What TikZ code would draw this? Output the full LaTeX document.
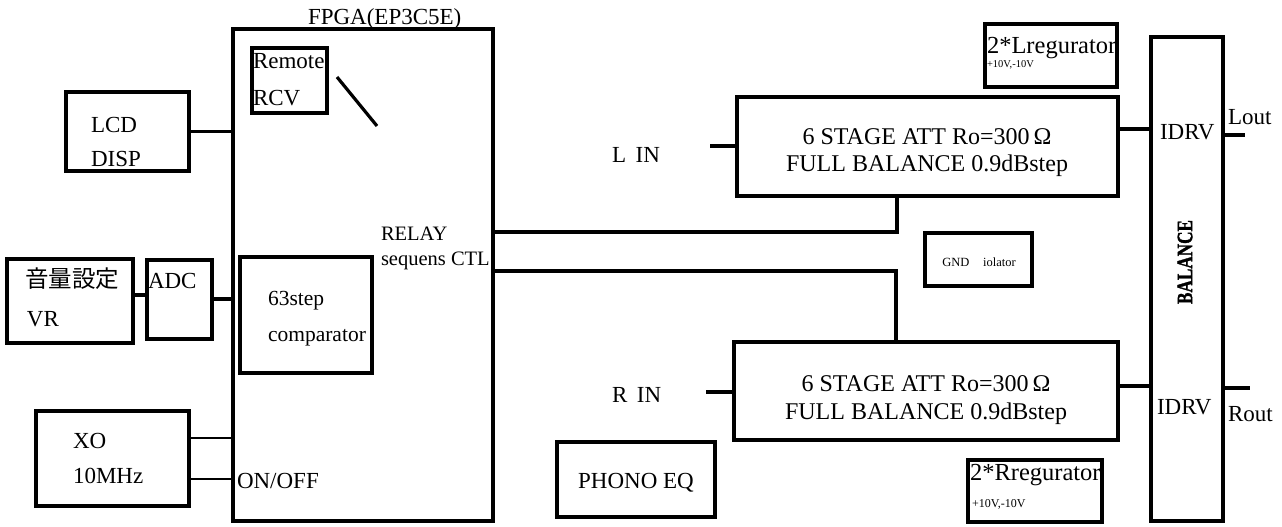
\documentclass[tikz,border=0pt]{standalone}
\usepackage{fontspec}
\setmainfont{Liberation Serif}
\newfontfamily\cjkfont{Noto Sans CJK JP}
\newfontfamily\balfont{Liberation Serif Bold}[FakeBold=1.6]
\newcommand\mybox[5]{\node[box, minimum width={(#4-#2)*1pt}, minimum height={(#5-#3)*1pt}] (#1) at ({(#2+#4)/2},{(#3+#5)/2}) {};}
\begin{document}
\begin{tikzpicture}[x=1pt,y=-1pt,
  box/.style={draw, line width=3.2pt, inner sep=0pt, outer sep=0pt},
  wire/.style={line width=3.2pt},
  thinwire/.style={line width=1.5pt},
  lbl/.style={inner sep=0pt, outer sep=0pt, anchor=base west, font=\fontsize{23}{27}\selectfont},
  clbl/.style={lbl, anchor=base, font=\fontsize{24}{28}\selectfont},
  tiny/.style={inner sep=0pt, outer sep=0pt, anchor=base west}]
\useasboundingbox (0,0) rectangle (1282,527);

% boxes
\mybox{fpga}{233}{29}{493}{521}
\mybox{rcv}{252}{48}{327}{113}
\mybox{lcd}{66}{92}{189}{171}
\mybox{vr}{7}{259}{133}{343}
\mybox{adc}{147}{260}{212}{339}
\mybox{cmp}{240}{257}{372}{373}
\mybox{xo}{36}{411}{189}{506}
\mybox{latt}{737}{97}{1118}{196}
\mybox{ratt}{734}{342}{1118}{440}
\mybox{bal}{1151}{37}{1223}{521}
\mybox{lreg}{985}{24}{1117}{87}
\mybox{rreg}{968}{460}{1102}{522}
\mybox{gnd}{925}{233}{1032}{286}
\mybox{phono}{557}{442}{715}{517}

% helper coordinates
\coordinate (h295) at (0,295);
\coordinate (h299) at (0,299);
\coordinate (h438) at (0,438);
\coordinate (h479) at (0,479);
\coordinate (h232) at (0,232);
\coordinate (h271) at (0,271);
\coordinate (v897) at (897,0);
\coordinate (v896) at (896,0);
\coordinate (h129) at (0,129);
\coordinate (h386) at (0,386);
\coordinate (linend) at (710,146);
\coordinate (rinend) at (706,392);
\coordinate (loutend) at (1245,135);
\coordinate (routend) at (1250,388);
\coordinate (d1) at (337,77);
\coordinate (d2) at (377,126);

% connectors
\draw[wire] (lcd.east) -- (lcd.east -| fpga.west);
\draw[wire] (vr.east |- h295) -- (adc.west |- h295);
\draw[wire] (adc.east |- h299) -- (fpga.west |- h299);
\draw[thinwire] (xo.east |- h438) -- (fpga.west |- h438);
\draw[thinwire] (xo.east |- h479) -- (fpga.west |- h479);
\draw[wire] (fpga.east |- h232) -- (v897 |- h232) -- (latt.south -| v897);
\draw[wire] (fpga.east |- h271) -- (v896 |- h271) -- (ratt.north -| v896);
\draw[wire] (linend) -- (latt.west |- linend);
\draw[wire] (rinend) -- (ratt.west |- rinend);
\draw[wire] (latt.east |- h129) -- (bal.west |- h129);
\draw[wire] (ratt.east |- h386) -- (bal.west |- h386);
\draw[wire] (bal.east |- loutend) -- (loutend);
\draw[wire] (bal.east |- routend) -- (routend);
\draw[wire] (d1) -- (d2);

% texts
\node[lbl] (tfpga) at (308,25) {FPGA(EP3C5E)};
\node[lbl] (trem) at (253,69) {Remote};
\node[lbl] (trcv) at (253,105) {RCV};
\node[lbl] (tlcd) at (91,132) {LCD};
\node[lbl] (tdisp) at (91,166) {DISP};
\node[lbl, font=\cjkfont\fontsize{23.5}{27}\selectfont] (tvol) at (25,287) {音量設定};
\node[lbl] (tvr) at (27,326) {VR};
\node[lbl] (tadc) at (148,288) {ADC};
\node[lbl, font=\fontsize{21.5}{26}\selectfont] (t63) at (268,305) {63step};
\node[lbl, font=\fontsize{21.5}{26}\selectfont] (tcmp) at (268,341) {comparator};
\node[lbl] (txo) at (73,448) {XO};
\node[lbl] (t10) at (73,483) {10MHz};
\node[lbl] (tonoff) at (237,488) {ON/OFF};
\node[lbl, font=\fontsize{20.5}{24}\selectfont] (trelay) at (381,240) {RELAY};
\node[lbl, font=\fontsize{20.5}{24}\selectfont] (tseq) at (381,265) {sequens CTL};
\node[clbl] (tl1) at (927,144) {6 STAGE ATT Ro=300\,Ω};
\node[clbl] (tl2) at (927,171) {FULL BALANCE 0.9dBstep};
\node[clbl] (tr1) at (926,391) {6 STAGE ATT Ro=300\,Ω};
\node[clbl] (tr2) at (926,419) {FULL BALANCE 0.9dBstep};
\node[lbl] (tlin) at (612,162) {L\, IN};
\node[lbl] (trin) at (612,402) {R\, IN};
\node[lbl] (tidl) at (1160,139) {IDRV};
\node[lbl] (tidr) at (1157,414) {IDRV};
\node[lbl] (tlout) at (1228,124) {Lout};
\node[lbl] (trout) at (1228,421) {Rout};
\begin{scope}
\clip (lreg.north west) rectangle (lreg.south east);
\node[lbl, font=\fontsize{24.5}{28}\selectfont] (tlreg) at (987,53) {2*Lregurator};
\end{scope}
\node[tiny, font=\fontsize{10.5}{12}\selectfont] (tlv) at (987,67) {+10V,-10V};
\begin{scope}
\clip (rreg.north west) rectangle (rreg.south east);
\node[lbl, font=\fontsize{24.5}{28}\selectfont] (trreg) at (970,480) {2*Rregurator};
\end{scope}
\node[tiny, font=\fontsize{12}{14}\selectfont] (trv) at (972,507) {+10V,-10V};
\node[inner sep=0pt, font=\fontsize{12.5}{15}\selectfont] (tgnd) at (979,262) {GND\hspace{1.1em}iolator};
\node[lbl, anchor=base, font=\fontsize{23}{27}\selectfont] (tphono) at (636,488) {PHONO EQ};
\node[inner sep=0pt, rotate=90, font=\balfont\fontsize{22}{26}\selectfont] (tbal) at (1185,262) {\scalebox{0.78}[1]{BALANCE}};
\end{tikzpicture}
\end{document}
